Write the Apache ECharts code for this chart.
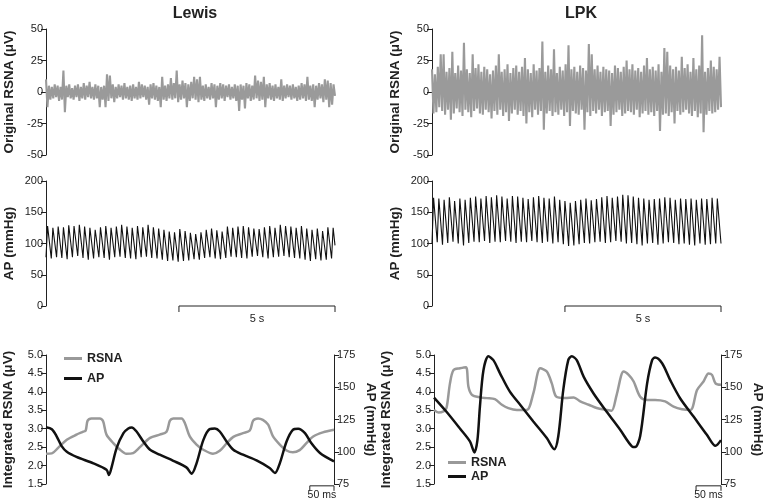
<!DOCTYPE html>
<html><head><meta charset="utf-8">
<script src="https://cdn.jsdelivr.net/npm/echarts@6/dist/echarts.min.js"></script>
<style>html,body{margin:0;padding:0;background:#fff}#c{width:767px;height:500px}</style>
</head><body><div id="c"></div>
<script>
// ---------- DATA ----------
const rawDuration = 9.26;               // s, top & middle traces
const scaleBarRaw = 5;                  // s
const rawRsnaTicks = [-50, -25, 0, 25, 50];
const apTicks = [0, 50, 100, 150, 200];
const intRsnaTicks = [1.5, 2.0, 2.5, 3.0, 3.5, 4.0, 4.5, 5.0];
const avgApTicks = [75, 100, 125, 150, 175];

const rsnaRawLewis = [
 10,-12,5,-6,4,-5,6,-4,5,-7, 4,-6,17,-16,5,-4,6,-5,3,-6,
 5,-4,6,-7,4,-5,7,-6,5,-4, 8,-5,4,-6,6,-5,5,-12,4,-6,
 5,-12,14,-7,13,-5,6,-8,4,-5, 6,-4,5,-6,7,-5,4,-6,5,-7,
 6,-5,4,-6,8,-5,6,-4,5,-6, 4,-10,6,-5,7,-6,5,-7,4,-12,
 12,-6,5,-7,6,-5,11,-6,7,-5, 17,-8,6,-6,9,-5,7,-12,6,-7,
 8,-5,12,-6,10,-8,12,-6,5,-7, 6,-5,4,-6,7,-5,6,-12,5,-6,
 7,-5,6,-7,5,-4,6,-6,4,-5, 6,-7,5,-15,6,-6,5,-13,7,-5,
 6,-7,5,-6,13,-5,9,-7,8,-6, 12,-12,6,-5,7,-6,5,-7,6,-5,
 4,-6,10,-7,5,-5,6,-4,5,-6, 6,-5,4,-7,5,-6,7,-5,6,-7,
 12,-6,5,-7,6,-12,5,-6,7,-5, 6,-8,10,-6,9,-12,7,-10,6,-3
];
const rsnaRawLPK = [
 18,-17,14,-16,20,-12,30,-15,30,-18, 16,-14,19,-22,32,-17,15,-13,21,-16,
 17,-19,39,-14,18,-16,15,-20,30,-15, 19,-13,22,-17,16,-18,20,-14,18,-16,
 14,-21,17,-15,21,-18,30,-14,16,-19, 18,-16,22,-23,15,-17,19,-14,21,-18,
 16,-15,20,-19,27,-25,18,-16,15,-20, 22,-14,17,-18,19,-15,40,-30,16,-17,
 21,-15,18,-19,34,-16,15,-18,20,-14, 17,-19,22,-16,37,-27,18,-15,20,-17,
 16,-18,21,-14,19,-30,17,-16,38,-19, 30,-15,18,-17,21,-14,16,-19,20,-16,
 18,-15,17,-27,15,-18,21,-16,19,-14, 16,-19,20,-17,25,-15,18,-16,22,-18,
 17,-14,19,-20,16,-17,21,-15,27,-18, 18,-16,20,-19,17,-15,22,-31,16,-18,
 35,-17,32,-19,21,-16,18,-25,20,-15, 17,-18,28,-16,19,-14,22,-17,16,-19,
 27,-15,18,-20,21,-17,45,-32,16,-18, 19,-15,25,-17,20,-16,18,-14,28,-12
];

const apPeaksLewis = [128,125,127,126,129,128,130,127,125,122, 126,128,125,127,130,127,125,128,126,130,
 126,124,122,119,118,123,120,117,115,118, 122,124,121,119,127,125,127,128,126,124,
 123,126,128,125,130,128,127,125,128,124, 122,124,120,126,125];
const apTroughsLewis = [78,76,78,77,75,78,80,77,74,76, 78,77,74,78,79,77,76,75,78,79,
 77,76,74,72,73,71,72,73,75,74, 77,78,76,75,77,79,78,77,76,79,
 80,78,76,78,79,80,78,77,76,74, 72,75,73,74,76];
const apEndLewis = 97;
const apPeaksLPK = [173,172,170,174,168,172,170,173,175,172, 176,174,177,175,172,176,175,173,171,174,
 176,173,172,175,170,168,165,168,170,172, 169,171,174,176,173,175,178,177,175,173,
 172,170,171,172,174,173,170,172,171,172, 170,172,171,173,172];
const apTroughsLPK = [100,102,98,101,103,100,97,101,103,102, 104,101,103,102,104,103,101,103,102,104,
 102,101,103,100,102,99,96,97,99,101, 100,102,103,101,102,104,103,100,101,99,
 97,100,101,98,100,102,101,99,100,98, 97,100,98,99,100];
const apEndLPK = 100;

// averaged traces (ms, value)
const avgDurationLewis = 595, avgDurationLPK = 575, scaleBarAvg = 50;
const avgRsnaLewis = [[0,2.32],[12,2.33],[25,2.48],[43,2.70],[63,2.84],[77,2.92],[82,2.95],[86,3.22],[94,3.28],[111,3.28],[118,3.2],[125,2.84],[139,2.61],[153,2.43],[166,2.32],[180,2.34],[194,2.5],[215,2.75],[235,2.84],[249,2.92],[256,3.22],[263,3.28],[280,3.28],[287,3.15],[297,2.79],[311,2.57],[325,2.43],[345,2.32],[359,2.4],[373,2.6],[387,2.78],[407,2.88],[421,2.95],[428,3.22],[438,3.28],[448,3.24],[459,3.11],[469,2.79],[483,2.57],[497,2.41],[510,2.36],[524,2.42],[538,2.61],[552,2.79],[572,2.9],[595,2.97]];
const avgApLewis = [[0,119],[12,117.5],[22,112],[32,104.6],[43,100],[63,96],[98,91],[125,86],[130,82],[136,88.7],[146,103],[160,114.4],[170,118],[177,118.8],[187,115.7],[201,108],[215,101.5],[235,97.7],[263,93],[290,87.9],[301,83],[311,91],[325,109],[338,117.5],[349,118],[359,115.7],[373,108],[387,101.5],[407,97.7],[435,93.3],[462,87.4],[473,83.5],[483,91],[497,108],[510,117],[521,117.8],[535,114.4],[548,106.7],[566,99],[595,92.5]];
const avgRsnaLPK = [[0,3.51],[9,3.44],[19,3.47],[25,3.56],[32,4.23],[39,4.59],[52,4.64],[64,4.67],[69,4.14],[76,3.92],[92,3.85],[106,3.83],[122,3.8],[136,3.65],[149,3.56],[166,3.51],[186,3.51],[199,3.96],[213,4.64],[226,4.55],[236,4.23],[245,3.87],[263,3.83],[280,3.85],[293,3.74],[310,3.65],[326,3.56],[346,3.51],[356,3.49],[366,3.92],[380,4.55],[390,4.46],[400,4.28],[413,3.87],[427,3.78],[443,3.78],[463,3.74],[480,3.6],[497,3.53],[514,3.51],[527,4.05],[540,4.28],[550,4.5],[557,4.46],[564,4.23],[575,4.19]];
const avgApLPK = [[0,142],[25,131],[52,118],[72,108],[81,99.5],[87,109],[92,135],[99,163],[109,174],[119,171],[132,161],[152,146.6],[173,136.3],[199,123.5],[226,110.6],[241,102],[249,112],[259,148],[269,171],[276,174],[286,171],[300,158],[320,145],[346,131],[373,117],[397,104],[403,103.6],[413,112],[427,153],[437,171],[443,173],[457,168.6],[473,155.7],[493,141.5],[520,127.3],[547,113],[564,104.6],[575,109]];

// ---------- BUILD ----------
const FF = "'Liberation Sans', Arial, Helvetica, sans-serif";
const GRAY = '#999999', RAWGRAY = '#9a9a9a', BLACK = '#111111', AX = '#222222';

function rawSeriesData(arr, dur) { return arr.map((v, i) => [i * dur / (arr.length - 1), v]); }
function apTrace(peaks, troughs, endVal, dur, rise, phase) {
  const n = peaks.length, T = dur / (n + phase), out = [];
  for (let i = 0; i < n; i++) { out.push([i * T, troughs[i]]); out.push([(i + rise) * T, peaks[i]]); }
  out.push([dur, endVal]);
  return out;
}
function yAx(gridIndex, ticks, name, extra) {
  return Object.assign({
    type: 'value', gridIndex, min: ticks[0], max: ticks[ticks.length - 1], interval: ticks[1] - ticks[0],
    name, nameLocation: 'middle', nameGap: 30,
    nameTextStyle: { fontWeight: 'bold', fontSize: 13.5, color: AX, fontFamily: FF },
    axisLine: { show: true, lineStyle: { color: AX, width: 1 } },
    axisTick: { show: true, length: 5, lineStyle: { color: AX, width: 1 } },
    axisLabel: { fontSize: 11, color: AX, margin: 3, fontFamily: FF },
    splitLine: { show: false }
  }, extra || {});
}
function xAx(gridIndex, max) {
  return { type: 'value', gridIndex, min: 0, max, show: false, splitLine: { show: false } };
}
function scaleBar(xi, yi, t0, t1, y, label, tickPx, gap, fs) {
  return {
    type: 'custom', xAxisIndex: xi, yAxisIndex: yi, silent: true, clip: false, z: 5,
    data: [[t0, t1, y]], encode: { x: [0, 1], y: 2 },
    renderItem: (params, api) => {
      const p0 = api.coord([api.value(0), api.value(2)]);
      const p1 = api.coord([api.value(1), api.value(2)]);
      return { type: 'group', children: [
        { type: 'polyline', shape: { points: [[p0[0], p0[1] + tickPx], [p0[0], p0[1]], [p1[0], p1[1]], [p1[0], p1[1] + tickPx]] },
          style: { stroke: AX, lineWidth: 1, fill: null } },
        { type: 'text', style: { text: label, x: (p0[0] + p1[0]) / 2, y: p0[1] + gap, align: 'center', verticalAlign: 'middle',
          fontSize: fs, fontFamily: FF, fill: AX } }
      ] };
    }
  };
}
const fmt1 = v => v.toFixed(1);

const option = {
  animation: false,
  title: [
    { text: 'Lewis', left: 190, top: 1, textAlign: 'center', textStyle: { fontSize: 16, fontWeight: 'bold', color: AX, fontFamily: FF } },
    { text: 'LPK', left: 576, top: 1, textAlign: 'center', textStyle: { fontSize: 16, fontWeight: 'bold', color: AX, fontFamily: FF } }
  ],
  legend: [
    { left: 59, top: 347, orient: 'vertical', icon: 'rect', itemWidth: 18, itemHeight: 3, itemGap: 7, selectedMode: false,
      data: ['RSNA', 'AP'], textStyle: { fontWeight: 'bold', fontSize: 12.5, color: AX, fontFamily: FF } },
    { left: 443, top: 451, orient: 'vertical', icon: 'rect', itemWidth: 18, itemHeight: 3, itemGap: 1, selectedMode: false,
      data: ['RSNA', 'AP'], textStyle: { fontWeight: 'bold', fontSize: 12.5, color: AX, fontFamily: FF } }
  ],
  grid: [
    { left: 46, top: 29, width: 289, height: 126 },
    { left: 432, top: 29, width: 289, height: 126 },
    { left: 46, top: 181, width: 289, height: 125 },
    { left: 432, top: 181, width: 289, height: 125 },
    { left: 46, top: 355, width: 288, height: 129 },
    { left: 434, top: 355, width: 287, height: 129 }
  ],
  xAxis: [xAx(0, rawDuration), xAx(1, rawDuration), xAx(2, rawDuration), xAx(3, rawDuration),
          xAx(4, avgDurationLewis), xAx(5, avgDurationLPK)],
  yAxis: [
    yAx(0, rawRsnaTicks, 'Original RSNA (μV)'),
    yAx(1, rawRsnaTicks, 'Original RSNA (μV)'),
    yAx(2, apTicks, 'AP (mmHg)'),
    yAx(3, apTicks, 'AP (mmHg)'),
    yAx(4, intRsnaTicks, 'Integrated RSNA (μV)', { nameGap: 31, axisLabel: { fontSize: 11, color: AX, margin: 3, fontFamily: FF, formatter: fmt1 } }),
    yAx(4, avgApTicks, 'AP (mmHg)', { position: 'right', nameRotate: -90, nameGap: 30 }),
    yAx(5, intRsnaTicks, 'Integrated RSNA (μV)', { nameGap: 41, axisLabel: { fontSize: 11, color: AX, margin: 3, fontFamily: FF, formatter: fmt1 } }),
    yAx(5, avgApTicks, 'AP (mmHg)', { position: 'right', nameRotate: -90, nameGap: 30 })
  ],
  series: [
    { name: 'RSNA raw', type: 'line', xAxisIndex: 0, yAxisIndex: 0, showSymbol: false, silent: true,
      data: rawSeriesData(rsnaRawLewis, rawDuration), lineStyle: { color: RAWGRAY, width: 2.1, join: 'bevel' }, itemStyle: { color: RAWGRAY } },
    { name: 'RSNA raw', type: 'line', xAxisIndex: 1, yAxisIndex: 1, showSymbol: false, silent: true,
      data: rawSeriesData(rsnaRawLPK, rawDuration), lineStyle: { color: RAWGRAY, width: 2.1, join: 'bevel' }, itemStyle: { color: RAWGRAY } },
    { name: 'AP raw', type: 'line', xAxisIndex: 2, yAxisIndex: 2, showSymbol: false, silent: true,
      data: apTrace(apPeaksLewis, apTroughsLewis, apEndLewis, rawDuration, 0.3, -0.35), lineStyle: { color: BLACK, width: 1.1 }, itemStyle: { color: BLACK } },
    { name: 'AP raw', type: 'line', xAxisIndex: 3, yAxisIndex: 3, showSymbol: false, silent: true,
      data: apTrace(apPeaksLPK, apTroughsLPK, apEndLPK, rawDuration, 0.3, 0), lineStyle: { color: BLACK, width: 1.1 }, itemStyle: { color: BLACK } },
    scaleBar(2, 2, rawDuration - scaleBarRaw, rawDuration, 0, '5 s', 6, 13, 11),
    scaleBar(3, 3, rawDuration - scaleBarRaw, rawDuration, 0, '5 s', 6, 13, 11),
    { name: 'RSNA', type: 'line', xAxisIndex: 4, yAxisIndex: 4, showSymbol: false, smooth: 0.3, silent: true,
      data: avgRsnaLewis, lineStyle: { color: GRAY, width: 2.5 }, itemStyle: { color: GRAY } },
    { name: 'AP', type: 'line', xAxisIndex: 4, yAxisIndex: 5, showSymbol: false, smooth: 0.3, silent: true,
      data: avgApLewis, lineStyle: { color: BLACK, width: 2.5 }, itemStyle: { color: BLACK } },
    { name: 'RSNA', type: 'line', xAxisIndex: 5, yAxisIndex: 6, showSymbol: false, smooth: 0.3, silent: true,
      data: avgRsnaLPK, lineStyle: { color: GRAY, width: 2.5 }, itemStyle: { color: GRAY } },
    { name: 'AP', type: 'line', xAxisIndex: 5, yAxisIndex: 7, showSymbol: false, smooth: 0.3, silent: true,
      data: avgApLPK, lineStyle: { color: BLACK, width: 2.5 }, itemStyle: { color: BLACK } },
    scaleBar(4, 4, avgDurationLewis - scaleBarAvg, avgDurationLewis, 1.45, '50 ms', 5, 9, 10.5),
    scaleBar(5, 6, avgDurationLPK - scaleBarAvg, avgDurationLPK, 1.45, '50 ms', 5, 9, 10.5)
  ]
};
const chart = echarts.init(document.getElementById('c'), null, { renderer: 'canvas' });
chart.setOption(option);
</script></body></html>
